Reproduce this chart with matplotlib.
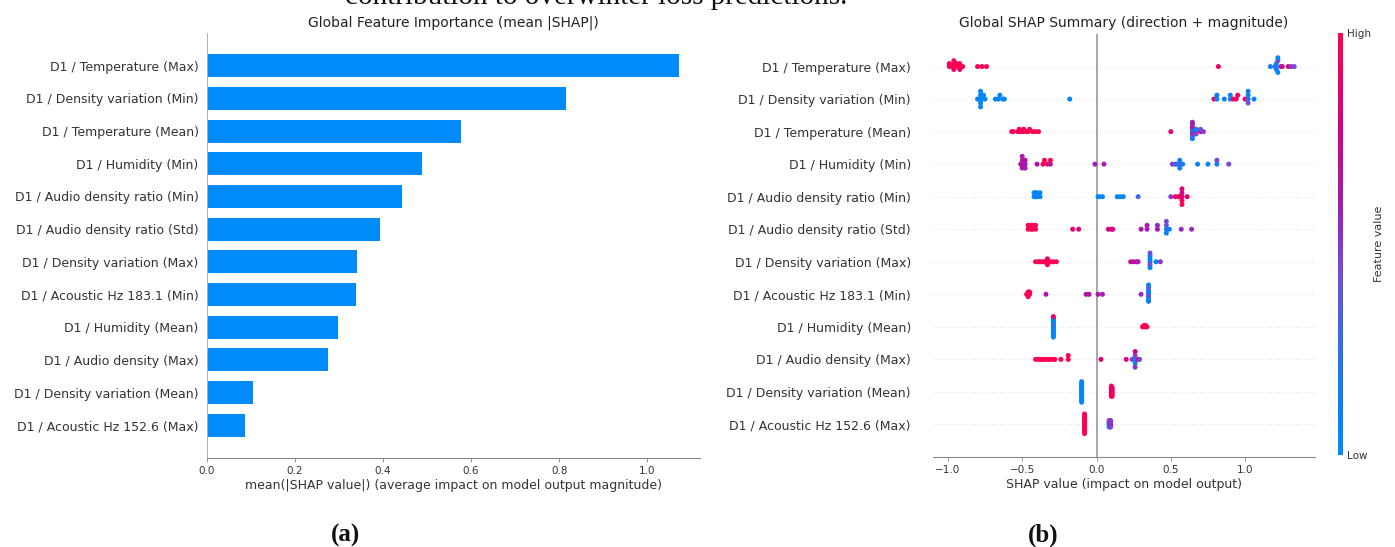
import numpy as np
import matplotlib
matplotlib.use("Agg")
import matplotlib.pyplot as plt
from matplotlib.colors import LinearSegmentedColormap, Normalize
from matplotlib.cm import ScalarMappable

# ---------------------------------------------------------------- data
features = [
    "D1 / Temperature (Max)",
    "D1 / Density variation (Min)",
    "D1 / Temperature (Mean)",
    "D1 / Humidity (Min)",
    "D1 / Audio density ratio (Min)",
    "D1 / Audio density ratio (Std)",
    "D1 / Density variation (Max)",
    "D1 / Acoustic Hz 183.1 (Min)",
    "D1 / Humidity (Mean)",
    "D1 / Audio density (Max)",
    "D1 / Density variation (Mean)",
    "D1 / Acoustic Hz 152.6 (Max)",
]

mean_abs_shap = [1.072, 0.815, 0.576, 0.488, 0.442, 0.392,
                 0.340, 0.338, 0.298, 0.274, 0.104, 0.087]

bar_ticks = [0.0, 0.2, 0.4, 0.6, 0.8, 1.0]
swarm_ticks = [-1.0, -0.5, 0.0, 0.5, 1.0]

# per-sample SHAP values and scaled feature values (0 = low, 1 = high)
shap_temp_max = [-0.99, -0.99, -0.97, -0.96, -0.96, -0.96, -0.94, -0.94, -0.93,
                 -0.92, -0.92, -0.90, -0.80, -0.77, -0.74, 0.82, 1.17, 1.20, 1.21,
                 1.21, 1.21, 1.22, 1.22, 1.22, 1.24, 1.25, 1.29, 1.31, 1.33]
feat_temp_max = [1.0, 0.95, 1.0, 1.0, 0.95, 1.0, 1.0, 0.95, 1.0,
                 1.0, 0.95, 1.0, 1.0, 1.0, 1.0, 0.9, 0.05, 0.4, 0.05,
                 0.05, 0.1, 0.45, 0.05, 0.05, 0.5, 0.8, 0.8, 0.5, 0.45]

shap_dens_min = [-0.80, -0.79, -0.78, -0.78, -0.78, -0.78, -0.77, -0.76, -0.75,
                 -0.68, -0.66, -0.65, -0.63, -0.62, -0.18, 0.79, 0.81, 0.81,
                 0.86, 0.90, 0.90, 0.92, 0.94, 0.95, 1.00, 1.02, 1.02, 1.02,
                 1.02, 1.06]
feat_dens_min = [0.05, 0.05, 0.1, 0.05, 0.05, 0.1, 0.05, 0.05, 0.05,
                 0.05, 0.05, 0.05, 0.05, 0.05, 0.05, 0.95, 0.1, 0.1,
                 0.1, 0.1, 0.1, 0.95, 0.95, 0.95, 0.95, 0.3, 0.1, 0.4,
                 0.15, 0.1]

shap_temp_mean = [-0.57, -0.56, -0.53, -0.52, -0.52, -0.50, -0.49, -0.49, -0.47,
                  -0.46, -0.45, -0.43, -0.41, -0.39, 0.50, 0.645, 0.645, 0.645,
                  0.645, 0.645, 0.645, 0.645, 0.645, 0.67, 0.67, 0.67, 0.70,
                  0.70, 0.72]
feat_temp_mean = [0.9, 1.0, 1.0, 1.0, 0.95, 1.0, 1.0, 0.95, 1.0,
                  1.0, 1.0, 1.0, 1.0, 1.0, 0.85, 0.45, 0.1, 0.5,
                  0.8, 0.45, 0.5, 0.1, 0.6, 0.5, 0.1, 0.45, 0.8,
                  0.4, 0.45]

shap_hum_min = [-0.51, -0.50, -0.50, -0.50, -0.50, -0.48, -0.48, -0.48, -0.40,
                -0.36, -0.35, -0.33, -0.31, -0.31, -0.01, 0.05, 0.51, 0.53,
                0.54, 0.56, 0.56, 0.56, 0.58, 0.68, 0.75, 0.81, 0.81, 0.89]
feat_hum_min = [0.6, 0.65, 0.6, 0.65, 0.6, 0.6, 0.65, 0.6, 0.65,
                0.95, 1.0, 1.0, 0.6, 1.0, 0.6, 0.6, 0.5, 0.45,
                0.1, 0.45, 0.1, 0.1, 0.1, 0.1, 0.1, 0.1, 0.45, 0.45]

shap_ratio_min = [-0.42, -0.42, -0.41, -0.41, -0.40, -0.40, -0.38, -0.38, 0.01,
                  0.02, 0.04, 0.14, 0.16, 0.18, 0.28, 0.50, 0.53, 0.55, 0.56,
                  0.575, 0.575, 0.575, 0.575, 0.575, 0.57, 0.61]
feat_ratio_min = [0.05, 0.05, 0.05, 0.05, 0.05, 0.05, 0.05, 0.05, 0.05,
                  0.05, 0.05, 0.05, 0.05, 0.05, 0.3, 0.5, 0.9, 1.0, 0.95,
                  0.95, 0.8, 1.0, 0.85, 1.0, 0.8, 0.9]

shap_ratio_std = [-0.46, -0.46, -0.44, -0.44, -0.43, -0.43, -0.41, -0.41, -0.16,
                  -0.12, 0.08, 0.10, 0.11, 0.30, 0.34, 0.34, 0.41, 0.41, 0.47,
                  0.47, 0.47, 0.47, 0.49, 0.57, 0.64]
feat_ratio_std = [1.0, 1.0, 1.0, 1.0, 1.0, 1.0, 1.0, 1.0, 0.85,
                  0.85, 0.8, 0.8, 0.8, 0.6, 0.6, 0.6, 0.6, 0.55, 0.1,
                  0.4, 0.1, 0.45, 0.1, 0.55, 0.55]

shap_dens_max = [-0.41, -0.39, -0.38, -0.36, -0.35, -0.33, -0.33, -0.33, -0.31,
                 -0.29, -0.27, 0.23, 0.25, 0.27, 0.28, 0.36, 0.36, 0.36, 0.36,
                 0.36, 0.36, 0.40, 0.43]
feat_dens_max = [1.0, 1.0, 0.95, 1.0, 1.0, 1.0, 0.9, 1.0, 1.0,
                 1.0, 1.0, 0.7, 0.7, 0.7, 0.6, 0.1, 0.1, 0.45, 0.1,
                 0.1, 0.4, 0.1, 0.5]

shap_hz183_min = [-0.47, -0.46, -0.46, -0.46, -0.45, -0.45, -0.34, -0.07, -0.05,
                  0.01, 0.04, 0.30, 0.35, 0.35, 0.35, 0.35, 0.35, 0.35, 0.35,
                  0.35]
feat_hz183_min = [1.0, 1.0, 1.0, 1.0, 1.0, 1.0, 0.65, 0.65, 0.65,
                  0.6, 0.6, 0.55, 0.1, 0.1, 0.45, 0.1, 0.1, 0.4, 0.1,
                  0.1]

shap_hum_mean = [-0.29, -0.29, -0.29, -0.29, -0.29, -0.29, -0.29, -0.29, -0.29,
                 -0.29, -0.29, -0.29, -0.29, -0.29, -0.29, 0.31, 0.32, 0.32,
                 0.33, 0.33, 0.34]
feat_hum_mean = [0.05, 0.1, 0.05, 0.4, 0.05, 0.1, 0.05, 0.05, 0.1,
                 0.05, 0.05, 0.1, 0.05, 0.9, 0.05, 1.0, 1.0, 1.0,
                 1.0, 1.0, 1.0]

shap_audio_max = [-0.41, -0.39, -0.38, -0.37, -0.36, -0.35, -0.33, -0.32, -0.31,
                  -0.29, -0.28, -0.24, -0.19, -0.19, 0.03, 0.20, 0.24, 0.26,
                  0.26, 0.26, 0.26, 0.26, 0.28, 0.29]
feat_audio_max = [1.0, 1.0, 1.0, 1.0, 1.0, 1.0, 1.0, 1.0, 1.0,
                  1.0, 1.0, 1.0, 1.0, 1.0, 0.85, 0.85, 0.5, 0.1,
                  0.45, 0.1, 0.8, 0.5, 0.9, 0.45]

shap_dens_mean = [-0.10] * 15 + [0.10] * 8 + [0.105] * 7
feat_dens_mean = [0.05, 0.1, 0.05, 0.05, 0.1, 0.05, 0.05, 0.1, 0.05,
                  0.05, 0.1, 0.05, 0.05, 0.1, 0.05,
                  1.0, 0.8, 1.0, 0.95, 0.8, 1.0, 0.9, 1.0,
                  0.8, 1.0, 0.95, 0.8, 1.0, 0.9, 1.0]

shap_hz152_max = [-0.08] * 16 + [0.085] * 6 + [0.095] * 6
feat_hz152_max = [1.0, 0.95, 1.0, 1.0, 0.95, 1.0, 1.0, 1.0, 0.95,
                  1.0, 1.0, 0.95, 1.0, 1.0, 1.0, 0.95,
                  0.05, 0.1, 0.05, 0.45, 0.1, 0.5,
                  0.5, 0.45, 0.8, 0.5, 0.45, 0.5]

swarm_shap = [shap_temp_max, shap_dens_min, shap_temp_mean, shap_hum_min,
              shap_ratio_min, shap_ratio_std, shap_dens_max, shap_hz183_min,
              shap_hum_mean, shap_audio_max, shap_dens_mean, shap_hz152_max]
swarm_feat = [feat_temp_max, feat_dens_min, feat_temp_mean, feat_hum_min,
              feat_ratio_min, feat_ratio_std, feat_dens_max, feat_hz183_min,
              feat_hum_mean, feat_audio_max, feat_dens_mean, feat_hz152_max]

# ---------------------------------------------------------------- style
BAR_BLUE = "#008bfb"
AXIS_COL = "#333333"
red_blue = LinearSegmentedColormap.from_list(
    "red_blue",
    [(0.00, "#008bfb"), (0.12, "#0a7ff4"), (0.28, "#3a6be6"),
     (0.42, "#7050d8"), (0.52, "#9030c4"), (0.62, "#a818a8"),
     (0.76, "#cc0490"), (0.88, "#e8006c"), (1.00, "#ff0052")])


def swarm_offsets(vals, row_height=0.4, nbins=100):
    """Vertical offsets that stack samples falling in the same value bin."""
    vals = np.asarray(vals, float)
    quant = np.round(nbins * (vals - vals.min()) / (vals.max() - vals.min() + 1e-8))
    order = np.argsort(quant, kind="stable")
    ys = np.zeros(len(vals))
    layer, last = 0, None
    for i in order:
        if quant[i] != last:
            layer = 0
        ys[i] = np.ceil(layer / 2) * ((layer % 2) * 2 - 1)
        layer += 1
        last = quant[i]
    ys *= 0.9 * (row_height / np.max(ys + 1))
    return ys


W, H = 1395, 547
fig = plt.figure(figsize=(W / 100, H / 100), dpi=100)
fig.patch.set_facecolor("white")


def box(x0, y0, x1, y1):
    return [x0 / W, 1 - y1 / H, (x1 - x0) / W, (y1 - y0) / H]


n = len(features)
pos = np.arange(n)[::-1]

# ---------------------------------------------------------------- (a) bar chart
ax1 = fig.add_axes(box(207, 33, 700, 458))
ax1.barh(pos, mean_abs_shap, 0.7, color=BAR_BLUE, align="center")
ax1.set_ylim(-1, n)
ax1.set_xlim(0, 1.12)
ax1.set_yticks(pos)
ax1.set_yticklabels(features, fontsize=9, color=AXIS_COL)
ax1.tick_params(axis="y", length=0, pad=6)
ax1.set_xticks(bar_ticks)
ax1.set_xticklabels([f"{t:.1f}" for t in bar_ticks])
ax1.tick_params(axis="x", labelsize=7.5, colors=AXIS_COL, length=3, width=0.6,
                color="#888888", pad=3)
for s in ("top", "right"):
    ax1.spines[s].set_visible(False)
ax1.spines["left"].set_color("#b0b0b0")
ax1.spines["bottom"].set_color("#888888")
ax1.spines["left"].set_linewidth(0.7)
ax1.spines["bottom"].set_linewidth(0.8)
ax1.set_xlabel("mean(|SHAP value|) (average impact on model output magnitude)",
               fontsize=9, color=AXIS_COL, labelpad=2)
ax1.set_title("Global Feature Importance (mean |SHAP|)", fontsize=10,
              color="#222222", pad=5)

# ---------------------------------------------------------------- (b) beeswarm
ax2 = fig.add_axes(box(933, 34, 1315, 457))
ax2.axvline(0, color="#999999", lw=1.2, zorder=1)
for p, sv, fv in zip(pos, swarm_shap, swarm_feat):
    ax2.axhline(p, color="#cccccc", lw=0.6, dashes=(1, 4), zorder=0)
    ys = swarm_offsets(sv)
    ax2.scatter(sv, p + ys, c=fv, cmap=red_blue, vmin=0, vmax=1, s=13,
                linewidths=0, zorder=3)
ax2.set_ylim(-1, n)
ax2.set_xlim(-1.10, 1.47)
ax2.set_yticks(pos)
ax2.set_yticklabels(features, fontsize=9, color=AXIS_COL)
ax2.tick_params(axis="y", length=0, pad=16)
ax2.set_xticks(swarm_ticks)
ax2.set_xticklabels(["\u22121.0", "\u22120.5", "0.0", "0.5", "1.0"])
ax2.tick_params(axis="x", labelsize=7.5, colors=AXIS_COL, length=3, width=0.6,
                color="#888888", pad=3)
for s in ("top", "right", "left"):
    ax2.spines[s].set_visible(False)
ax2.spines["bottom"].set_color("#888888")
ax2.spines["bottom"].set_linewidth(0.8)
ax2.set_xlabel("SHAP value (impact on model output)", fontsize=9,
               color=AXIS_COL, labelpad=2)
ax2.set_title("Global SHAP Summary (direction + magnitude)", fontsize=10,
              color="#222222", pad=5)

# colour bar
cax = fig.add_axes(box(1338, 33, 1343, 455))
cb = fig.colorbar(ScalarMappable(norm=Normalize(0, 1), cmap=red_blue), cax=cax,
                  ticks=[0, 1])
cb.set_ticklabels(["Low", "High"])
cb.ax.tick_params(labelsize=7.5, length=0, pad=3, colors=AXIS_COL)
cb.outline.set_visible(False)
cb.set_label("Feature value", fontsize=8, color=AXIS_COL, labelpad=2)

# ---------------------------------------------------------------- captions
fig.text(596 / W, 1 - 4 / H, "contribution to overwinter loss predictions.",
         ha="center", va="baseline", fontsize=21, family="Liberation Serif",
         color="#111111")
fig.text(345 / W, 1 - 542 / H, "(a)", ha="center", va="baseline",
         fontsize=18, family="Liberation Serif", fontweight="bold",
         color="#111111")
fig.text(1043 / W, 1 - 542 / H, "(b)", ha="center", va="baseline",
         fontsize=18, family="Liberation Serif", fontweight="bold",
         color="#111111")

fig.savefig("out.png", dpi=100, facecolor="white")
